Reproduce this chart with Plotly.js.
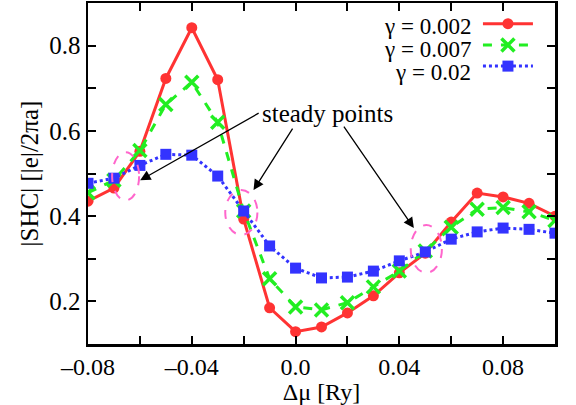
<!DOCTYPE html>
<html>
<head>
<meta charset="utf-8">
<script src="https://cdn.plot.ly/plotly-3.0.1.min.js"></script>
<style>html,body{margin:0;padding:0;background:#fff;}#chart{width:576px;height:405px;}</style>
</head>
<body>
<div id="chart"></div>
<script>
const dmu = [-0.08,-0.07,-0.06,-0.05,-0.04,-0.03,-0.02,-0.01,0.0,0.01,0.02,0.03,0.04,0.05,0.06,0.07,0.08,0.09,0.10];
const shc_g0002 = [0.435,0.466,0.552,0.723,0.842,0.720,0.393,0.185,0.129,0.140,0.173,0.213,0.267,0.313,0.386,0.454,0.445,0.430,0.400];
const shc_g0007 = [0.455,0.484,0.554,0.662,0.714,0.620,0.412,0.253,0.187,0.180,0.197,0.234,0.271,0.318,0.374,0.416,0.420,0.410,0.390];
const shc_g002  = [0.477,0.489,0.519,0.545,0.543,0.494,0.412,0.330,0.278,0.255,0.257,0.271,0.295,0.316,0.346,0.363,0.372,0.369,0.360];
const seriesNames = ['γ = 0.002','γ = 0.007','γ = 0.02'];
const xTickVals = [-0.08,-0.06,-0.04,-0.02,0.0,0.02,0.04,0.06,0.08,0.10];
const xTickText = ['–0.08','','–0.04','','0.0','','0.04','','0.08',''];
const yTickVals = [0.1,0.2,0.3,0.4,0.5,0.6,0.7,0.8,0.9];
const yTickText = ['','0.2','','0.4','','0.6','','0.8',''];
// steady point ellipses [x0,x1,y0,y1]
const steadyRegions = [[-0.0707,-0.0603,0.437,0.550],[-0.0271,-0.0147,0.356,0.461],[0.0444,0.0564,0.267,0.379]];
// arrow tips (data) and tail offsets (px)
const arrowTipX = [-0.0599,-0.0162,0.0456];
const arrowTipY = [0.484,0.461,0.372];
const arrowAx = [120,40,-71];
const arrowAy = [-68,-63,-103];

const F = 'Liberation Serif';
const traces = [
  {x:dmu,y:shc_g0002,mode:'lines+markers',name:' ',line:{color:'#ff3333',width:3},marker:{symbol:'circle',size:11,color:'#ff3333'}},
  {x:dmu,y:shc_g0007,mode:'lines+markers',name:' ',line:{color:'#22ee22',width:3,dash:'dash'},marker:{symbol:'x-thin',size:13,line:{color:'#22ee22',width:3.5},color:'#22ee22'}},
  {x:dmu,y:shc_g002,mode:'lines+markers',name:' ',line:{color:'#3333ff',width:3,dash:'dot'},marker:{symbol:'square',size:11,color:'#3333ff'}}
];
const shapes = steadyRegions.map(r=>({type:'circle',xref:'x',yref:'y',x0:r[0],x1:r[1],y0:r[2],y1:r[3],line:{color:'#ff66cc',width:2,dash:'dash'}}));
const annotations = [];
for(let i=0;i<arrowTipX.length;i++){
  annotations.push({x:arrowTipX[i],y:arrowTipY[i],xref:'x',yref:'y',text:'',showarrow:true,ax:arrowAx[i],ay:arrowAy[i],arrowhead:2,arrowsize:1.6,arrowwidth:1.3,arrowcolor:'#000',standoff:0});
}
annotations.push({x:0.0124,y:0.641,xref:'x',yref:'y',text:'steady points',showarrow:false,font:{family:F,size:25,color:'#000'}});
const legY = [0.846,0.792,0.738];
for(let i=0;i<3;i++){
  annotations.push({x:0.0684,y:legY[i],xref:'x',yref:'y',xanchor:'right',text:seriesNames[i],showarrow:false,font:{family:F,size:23,color:'#000'}});
}
const layout = {
  width:576,height:405,
  margin:{l:88,r:21,t:3,b:61},
  paper_bgcolor:'#fff',plot_bgcolor:'#fff',
  font:{family:F,size:25,color:'#000'},
  showlegend:true,
  legend:{x:0.835,y:0.985,xanchor:'left',yanchor:'top',bgcolor:'rgba(0,0,0,0)',font:{size:14},itemwidth:50,tracegroupgap:0},
  xaxis:{range:[-0.08,0.1],tickvals:xTickVals,ticktext:xTickText,ticks:'inside',ticklen:8,tickwidth:2,tickcolor:'#000',
    showline:true,linewidth:2.5,linecolor:'#000',mirror:'ticks',showgrid:false,zeroline:false,
    title:{text:'Δμ [Ry]',font:{family:F,size:24},standoff:5},tickfont:{family:F,size:24}},
  yaxis:{range:[0.1,0.9],tickvals:yTickVals,ticktext:yTickText,ticks:'inside',ticklen:8,tickwidth:2,tickcolor:'#000',
    showline:true,linewidth:2.5,linecolor:'#000',mirror:'ticks',showgrid:false,zeroline:false,
    title:{text:'|SHC| [|e|/2πa]',font:{family:F,size:25},standoff:4},tickfont:{family:F,size:25}},
  shapes:shapes,annotations:annotations
};
Plotly.newPlot('chart',traces,layout,{displayModeBar:false,staticPlot:true});
</script>
</body>
</html>
